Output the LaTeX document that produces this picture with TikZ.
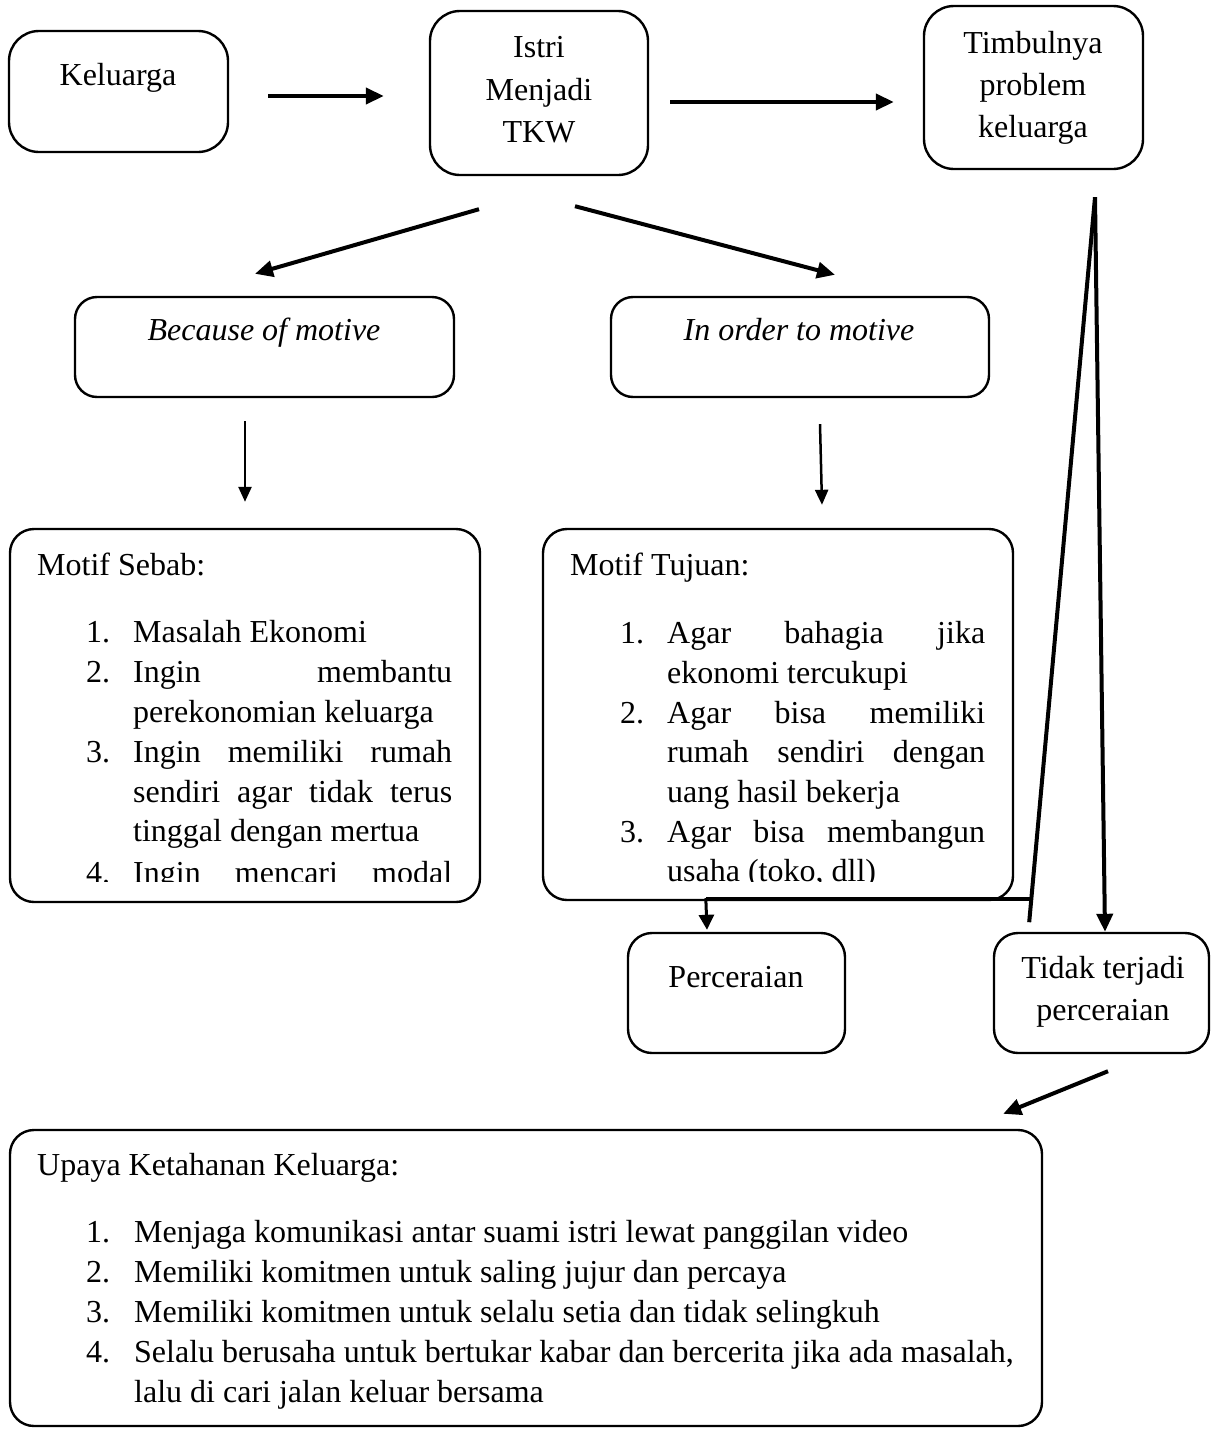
\documentclass[tikz,border=0pt]{standalone}
\usepackage{fontspec}
\setmainfont{Liberation Serif}
\usetikzlibrary{arrows.meta,calc}
\begin{document}
\begin{tikzpicture}[
  x=1pt, y=-1pt,
  rbox/.style={draw, line width=2.4pt, rounded corners=#1, inner sep=0pt},
  rbox/.default=24pt,
  txt/.style={inner sep=0pt, font=\fontsize{32}{40}\selectfont},
  itxt/.style={inner sep=0pt, font=\fontsize{32}{40}\selectfont\itshape},
  arr/.style={line width=4pt, -{Triangle[length=18pt,width=16pt]}},
  thinarr/.style={line width=2.5pt, -{Triangle[length=15pt,width=13pt]}},
  midarr/.style={line width=3pt, -{Triangle[length=15pt,width=15pt]}},
  plainline/.style={line width=4pt},
]
\useasboundingbox (0,0) rectangle (1211,1430);

% ---------- boxes ----------
\node[rbox=30pt, minimum width=219pt, minimum height=121pt] (kel) at (118.5,91.5) {};
\node[rbox=30pt, minimum width=218pt, minimum height=164pt] (istri) at (539,93) {};
\node[rbox=30pt, minimum width=219pt, minimum height=163pt] (timb) at (1033.5,87.5) {};
\node[rbox=22pt, minimum width=379pt, minimum height=100pt] (because) at (264.5,347) {};
\node[rbox=22pt, minimum width=378pt, minimum height=100pt] (inorder) at (800,347) {};
\node[rbox=24pt, minimum width=470pt, minimum height=373pt] (sebab) at (245,715.5) {};
\node[rbox=24pt, minimum width=470pt, minimum height=371pt] (tujuan) at (778,714.5) {};
\node[rbox=24pt, minimum width=217pt, minimum height=120pt] (cerai) at (736.5,993) {};
\node[rbox=24pt, minimum width=215pt, minimum height=120pt] (tidak) at (1101.5,993) {};
\node[rbox=24pt, minimum width=1032pt, minimum height=296pt] (upaya) at (526,1278) {};

% ---------- box texts ----------
\node[txt, anchor=base] (tkel) at (118,85) {Keluarga};
\node[txt, anchor=base] (tistri1) at (539,57) {Istri};
\node[txt, anchor=base] (tistri2) at (539,100) {Menjadi};
\node[txt, anchor=base] (tistri3) at (539,142) {TKW};
\node[txt, anchor=base] (ttimb1) at (1033,53) {Timbulnya};
\node[txt, anchor=base] (ttimb2) at (1033,95) {problem};
\node[txt, anchor=base] (ttimb3) at (1033,137) {keluarga};
\node[itxt, anchor=base] (tbecause) at (264,340) {Because of motive};
\node[itxt, anchor=base] (tinorder) at (799,340) {In order to motive};
\node[txt, anchor=base] (tcerai) at (736,987) {Perceraian};
\node[txt, anchor=base] (ttidak1) at (1103,978) {Tidak terjadi};
\node[txt, anchor=base] (ttidak2) at (1103,1020) {perceraian};

% ---------- Motif Sebab ----------
\begin{scope}
\clip (10,529) rectangle (480,881);
\node[txt, anchor=base west] (sh) at (37,575) {Motif Sebab:};
\node[txt, anchor=base west] (sn1) at (86,642) {1.};
\node[txt, anchor=base west] (st1) at (133,642) {Masalah Ekonomi};
\node[txt, anchor=base west] (sn2) at (86,682) {2.};
\node[txt, anchor=base west] (st2) at (133,682) {\makebox[319pt][s]{Ingin membantu}};
\node[txt, anchor=base west] (st2b) at (133,722) {perekonomian keluarga};
\node[txt, anchor=base west] (sn3) at (86,762) {3.};
\node[txt, anchor=base west] (st3) at (133,762) {\makebox[319pt][s]{Ingin memiliki rumah}};
\node[txt, anchor=base west] (st3b) at (133,802) {\makebox[319pt][s]{sendiri agar tidak terus}};
\node[txt, anchor=base west] (st3c) at (133,841) {tinggal dengan mertua};
\node[txt, anchor=base west] (sn4) at (86,883) {4.};
\node[txt, anchor=base west] (st4) at (133,883) {\makebox[319pt][s]{Ingin mencari modal}};
\end{scope}

% ---------- Motif Tujuan ----------
\begin{scope}
\clip (543,529) rectangle (1013,881);
\node[txt, anchor=base west] (th) at (570,575) {Motif Tujuan:};
\node[txt, anchor=base west] (tn1) at (620,643) {1.};
\node[txt, anchor=base west] (tt1) at (667,643) {\makebox[318pt][s]{Agar bahagia jika}};
\node[txt, anchor=base west] (tt1b) at (667,683) {ekonomi tercukupi};
\node[txt, anchor=base west] (tn2) at (620,723) {2.};
\node[txt, anchor=base west] (tt2) at (667,723) {\makebox[318pt][s]{Agar bisa memiliki}};
\node[txt, anchor=base west] (tt2b) at (667,762) {\makebox[318pt][s]{rumah sendiri dengan}};
\node[txt, anchor=base west] (tt2c) at (667,802) {uang hasil bekerja};
\node[txt, anchor=base west] (tn3) at (620,842) {3.};
\node[txt, anchor=base west] (tt3) at (667,842) {\makebox[318pt][s]{Agar bisa membangun}};
\node[txt, anchor=base west] (tt3b) at (667,881) {usaha (toko, dll)};
\end{scope}

% ---------- Upaya ----------
\node[txt, anchor=base west] (uh) at (37,1175) {Upaya Ketahanan Keluarga:};
\node[txt, anchor=base west] (un1) at (86,1242) {1.};
\node[txt, anchor=base west] (ut1) at (134,1242) {Menjaga komunikasi antar suami istri lewat panggilan video};
\node[txt, anchor=base west] (un2) at (86,1282) {2.};
\node[txt, anchor=base west] (ut2) at (134,1282) {Memiliki komitmen untuk saling jujur dan percaya};
\node[txt, anchor=base west] (un3) at (86,1322) {3.};
\node[txt, anchor=base west] (ut3) at (134,1322) {Memiliki komitmen untuk selalu setia dan tidak selingkuh};
\node[txt, anchor=base west] (un4) at (86,1362) {4.};
\node[txt, anchor=base west] (ut4) at (134,1362) {Selalu berusaha untuk bertukar kabar dan bercerita jika ada masalah,};
\node[txt, anchor=base west] (ut4b) at (134,1402) {lalu di cari jalan keluar bersama};

% ---------- connectors ----------
\draw[arr] ($(kel.east)+(39,4.5)$) -- ($(istri.west)+(-45,3)$);
\draw[arr] ($(istri.east)+(21,9)$) -- ($(timb.west)+(-29,14.5)$);
\draw[arr] ($(istri.south)+(-60,33)$) -- ($(because.north)+(-9.5,-22)$);
\draw[arr] ($(istri.south)+(36,30)$) -- ($(inorder.north)+(35,-21)$);
\draw[thinarr] ($(because.south)+(-19.5,23)$) -- ($(sebab.north)+(0,-26)$);
\draw[thinarr] ($(inorder.south)+(20,26)$) -- ($(tujuan.north)+(44,-23)$);

\coordinate (apex) at ($(timb.south)+(61.5,27)$);
\draw[plainline] (apex) -- ($(tujuan.south east)+(15,21)$);
\draw[plainline] ($(tujuan.south east)+(16,-2)$) -- ($(tujuan.south west)+(164,-2)$);
\draw[midarr] ($(tujuan.south west)+(164,-3)$) -- ($(cerai.north)+(-29.5,-2)$);
\draw[arr] (apex) -- ($(tidak.north)+(3.5,0)$);
\draw[arr] ($(tidak.south)+(6.5,17)$) -- ($(upaya.north east)+(-40,-15)$);
\end{tikzpicture}
\end{document}
